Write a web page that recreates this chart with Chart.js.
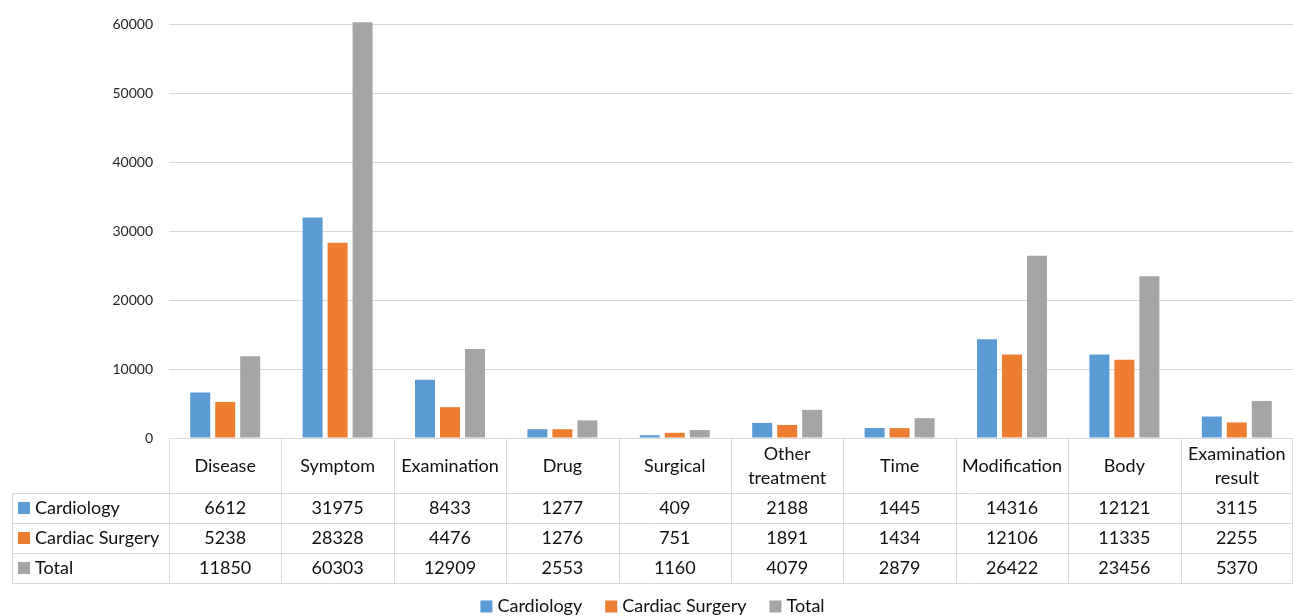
<!DOCTYPE html>
<html>
<head>
<meta charset="utf-8">
<script src="https://cdn.jsdelivr.net/npm/chart.js@4.4.0/dist/chart.umd.min.js"></script>
<style>
  html, body { margin: 0; padding: 0; background: #fff; overflow: hidden; }
  #wrap { width: 1293px; height: 616px; position: relative; }
</style>
</head>
<body>
<div id="wrap"><canvas id="c" width="1293" height="616"></canvas></div>
<script>
// Entity categories (multi-line labels as arrays)
const categories = [
  'Disease', 'Symptom', 'Examination', 'Drug', 'Surgical',
  ['Other', 'treatment'], 'Time', 'Modification', 'Body', ['Examination', 'result']
];
const cardiology     = [6612, 31975, 8433, 1277, 409, 2188, 1445, 14316, 12121, 3115];
const cardiacSurgery = [5238, 28328, 4476, 1276, 751, 1891, 1434, 12106, 11335, 2255];
const total          = [11850, 60303, 12909, 2553, 1160, 4079, 2879, 26422, 23456, 5370];
const seriesNames  = ['Cardiology', 'Cardiac Surgery', 'Total'];
const seriesColors = ['#5B9BD5', '#ED7D31', '#A5A5A5'];
const yMin = 0, yMax = 60000, yStep = 10000;

const FONT = 'Lato, "Open Sans", sans-serif';
const TABLE_FONT_SIZE = 18;
const GRID = '#D9D9D9';
const TEXT = '#111111';

// Draws the data table under the plot plus the bottom legend
const dataTable = {
  id: 'dataTable',
  afterDraw(chart) {
    const { ctx, chartArea: a, scales: { x } } = chart;
    const colW = x.getPixelForValue(1) - x.getPixelForValue(0);
    const top = a.bottom;
    const headH = 55, rowH = 30;
    const tableLeft = 12;
    const px = v => Math.round(v) + 0.5;
    const series = chart.data.datasets;
    const bottom = top + headH + rowH * series.length;

    ctx.save();
    ctx.strokeStyle = GRID;
    ctx.lineWidth = 1;
    ctx.beginPath();
    // horizontal lines
    ctx.moveTo(a.left, px(top)); ctx.lineTo(a.right, px(top));
    for (let r = 0; r <= series.length; r++) {
      const y = px(top + headH + r * rowH);
      ctx.moveTo(tableLeft, y); ctx.lineTo(a.right, y);
    }
    // vertical lines
    for (let i = 0; i <= categories.length; i++) {
      let xx = x.getPixelForValue(0) - colW / 2 + i * colW;
      xx = Math.min(px(xx), a.right - 0.5);
      ctx.moveTo(xx, px(top)); ctx.lineTo(xx, px(bottom));
    }
    ctx.moveTo(px(tableLeft), px(top + headH)); ctx.lineTo(px(tableLeft), px(bottom));
    ctx.stroke();

    ctx.fillStyle = TEXT;
    ctx.font = TABLE_FONT_SIZE + 'px ' + FONT;
    ctx.textAlign = 'center';
    ctx.textBaseline = 'middle';
    // header labels
    chart.data.labels.forEach((lab, i) => {
      const cx = x.getPixelForValue(i);
      const lines = Array.isArray(lab) ? lab : [lab];
      const lh = 24.5;
      const cy = top + headH / 2 + 0.5;
      lines.forEach((t, k) => {
        ctx.fillText(t, cx, cy + (k - (lines.length - 1) / 2) * lh);
      });
    });
    // value rows
    series.forEach((ds, r) => {
      const cy = top + headH + r * rowH + rowH / 2;
      ds.data.forEach((v, i) => {
        ctx.fillText(String(v), x.getPixelForValue(i), cy);
      });
      ctx.fillStyle = ds.backgroundColor;
      ctx.fillRect(18, cy - 6, 12, 12);
      ctx.fillStyle = TEXT;
      ctx.textAlign = 'left';
      ctx.fillText(ds.label, 35, cy);
      ctx.textAlign = 'center';
    });

    // legend
    const box = 12, gapBox = 5, gapItem = 23;
    const widths = series.map(ds => ctx.measureText(ds.label).width);
    const totalW = widths.reduce((s, w) => s + box + gapBox + w, 0) + gapItem * (series.length - 1);
    let lx = 652.5 - totalW / 2;
    const ly = 606.5;
    ctx.textAlign = 'left';
    series.forEach((ds, i) => {
      ctx.fillStyle = ds.backgroundColor;
      ctx.fillRect(lx, ly - 6, box, box);
      ctx.fillStyle = TEXT;
      ctx.fillText(ds.label, lx + box + gapBox, ly);
      lx += box + gapBox + widths[i] + gapItem;
    });
    ctx.restore();
  }
};

const seriesData = [cardiology, cardiacSurgery, total];

new Chart(document.getElementById('c'), {
  type: 'bar',
  data: {
    labels: categories,
    datasets: seriesNames.map((name, i) => ({
      label: name,
      data: seriesData[i],
      backgroundColor: seriesColors[i],
      borderWidth: 0,
      barPercentage: 0.8,
      categoryPercentage: 0.667,
      clip: false
    }))
  },
  options: {
    responsive: false,
    animation: false,
    devicePixelRatio: 1,
    layout: { padding: { left: 0, right: 0, top: 23, bottom: 178 } },
    plugins: {
      legend: { display: false },
      tooltip: { enabled: false }
    },
    scales: {
      x: { display: false },
      y: {
        min: yMin,
        max: yMax,
        afterFit(scale) { scale.width = 169; },
        border: { display: false },
        grid: { color: GRID, lineWidth: 1, drawTicks: false },
        ticks: {
          stepSize: yStep,
          padding: 16,
          color: '#262626',
          font: { family: FONT, size: 14 },
          callback: v => String(v)
        }
      }
    }
  },
  plugins: [dataTable]
});
</script>
</body>
</html>
